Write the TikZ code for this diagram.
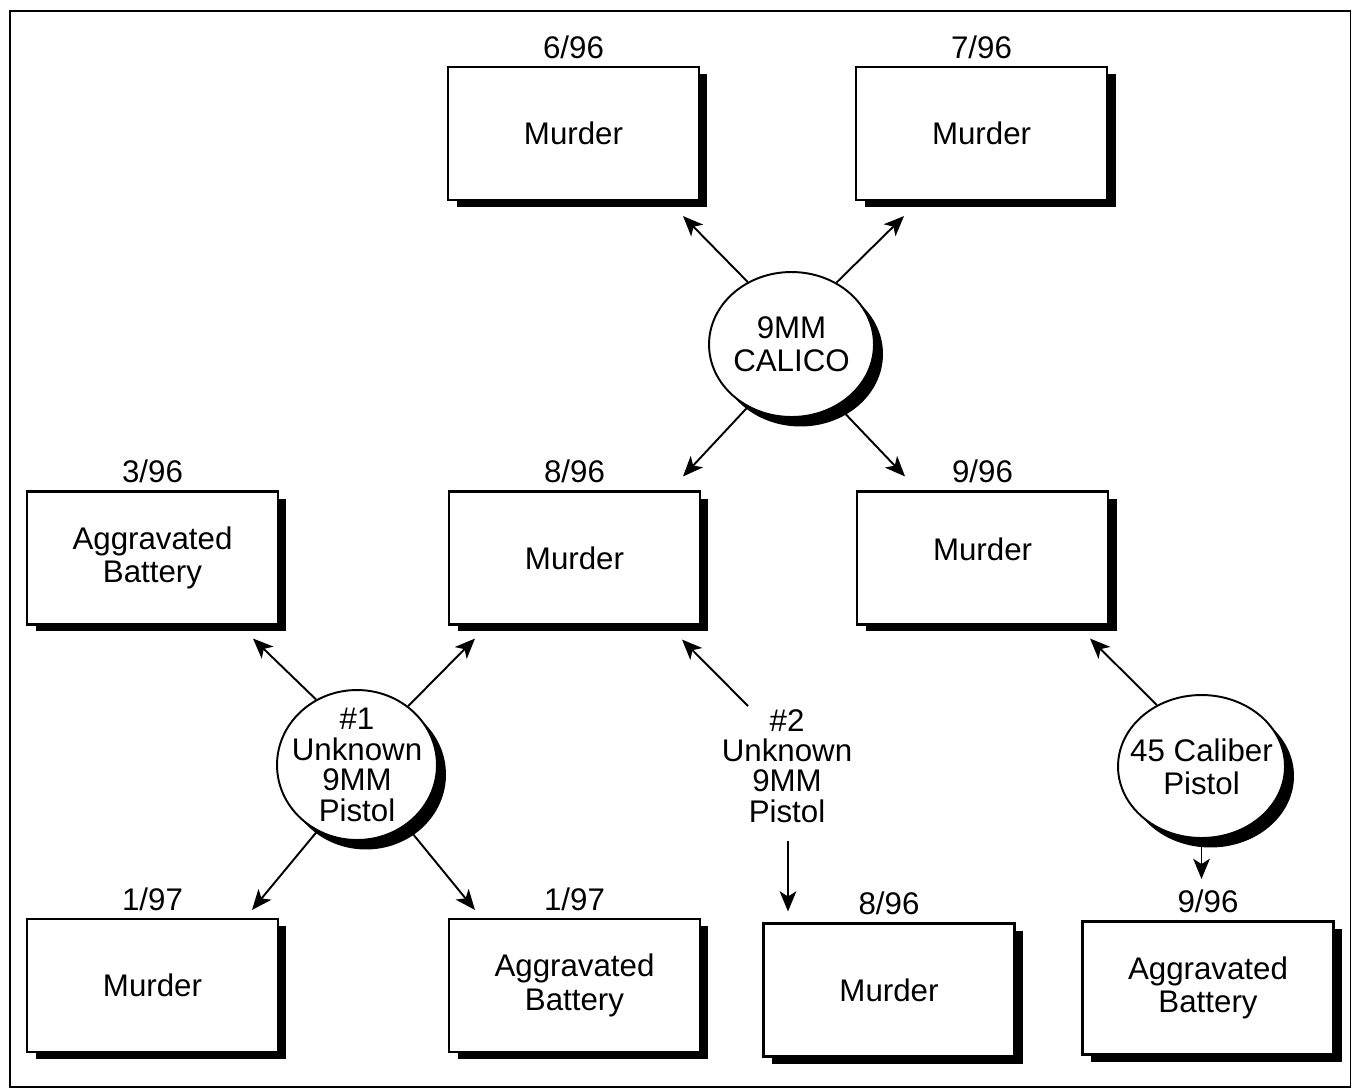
\documentclass[tikz,border=0pt]{standalone}
\usepackage{fontspec}
\setmainfont{Liberation Sans}
\usetikzlibrary{positioning,calc,shapes.geometric,shadows,arrows.meta}
\tikzset{
  crime/.style={draw, line width=1.2pt, fill=white, rectangle, minimum width=5.02cm, minimum height=2.66cm, align=center,
    drop shadow={shadow xshift=0.17cm, shadow yshift=-0.14cm, fill=black, opacity=1}},
  gun/.style={draw, line width=1.1pt, fill=white, ellipse, inner sep=-8pt, align=center,
    drop shadow={shadow xshift=0.18cm, shadow yshift=-0.19cm, fill=black, opacity=1}},
  gunedge/.style={-{Stealth[length=11.5pt,width=9.5pt,inset=3pt]}, line width=1.1pt},
  every label/.style={inner sep=0pt},
}

\begin{document}
\begin{tikzpicture}[x=0.02cm, y=-0.02cm, node distance=3.1cm, label distance=4pt,
  font=\fontsize{17.8}{19}\selectfont]
  \useasboundingbox (0,0) rectangle (1352,1089);
  \draw[line width=1.1pt] (10,11) rectangle (1350.5,1087);
  % Define crimes
  \node[crime, label=above:6/96] (t1) at (573.5,133.5) {Murder};
  \node[crime, right=of t1, label=above:7/96] (t2) {Murder};
  \node[crime, label=above:3/96] (m1) at (152.5,558) {Aggravated\\Battery};
  \node[crime, label=above:8/96] (m2) at (574.5,558) {Murder};
  \node[crime, right=of m2, label=above:9/96, text depth=0.36cm] (m3) {Murder};
  \node[crime, label=above:1/97] (b1) at (152.5,985.5) {Murder};
  \node[crime, label=above:1/97] (b2) at (574.5,985.5) {Aggravated\\Battery};
  \node[crime, label=above:8/96] (b3) at (889,990) {Murder};
  \node[crime, label=above:9/96] (b4) at (1208,988) {Aggravated\\Battery};
  % Define guns
  \node[gun, minimum width=3.3cm, minimum height=2.9cm] (calico) at (791.5,344.5) {9MM\\CALICO};
  \node[gun, minimum width=3.2cm, minimum height=3cm, font=\fontsize{17.8}{17.5}\selectfont] (unk1) at (357,765) {\#1\\Unknown\\9MM\\Pistol};
  \node[align=center, font=\fontsize{17.8}{17.2}\selectfont] (unk2) at (787,766) {\#2\\Unknown\\9MM\\Pistol};
  \node[gun, minimum width=3.34cm, minimum height=2.86cm] (cal45) at (1201.5,766.5) {45 Caliber\\Pistol};
  % Define gun edges
  \draw[gunedge] (calico.125.5) -- ($(t1.south)+(109.5,15)$);
  \draw[gunedge] (calico.54) -- ($(t2.south)+(-77.5,15)$);
  \draw[gunedge] (calico.235) -- ($(m2.north)+(108.5,-14)$);
  \draw[gunedge] (calico.307.8) -- ($(m3.north)+(-77.5,-14)$);
  \draw[gunedge] (unk1.122.8) -- ($(m1.south)+(100.5,13)$);
  \draw[gunedge] (unk1.49.5) -- ($(m2.south)+(-99.5,13)$);
  \draw[gunedge] (unk1.239.5) -- ($(b1.north)+(99.5,-8)$);
  \draw[gunedge] (unk1.309) -- ($(b2.north)+(-99.5,-8)$);
  \draw[gunedge] ($(unk2)+(-39,-60)$) -- ($(m2.south)+(107.5,14)$);
  \draw[gunedge] ($(unk2)+(1,75)$) -- ($(b3.north)+(-101,-11)$);
  \draw[gunedge] (cal45.126.5) -- ($(m3.south)+(107.5,13)$);
  \draw[gunedge] (cal45.south) -- ($(cal45.south)+(0,40)$);
\end{tikzpicture}
\end{document}
